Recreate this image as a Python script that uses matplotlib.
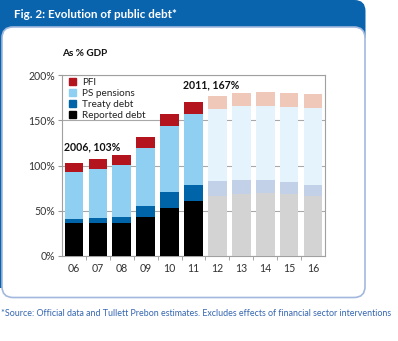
import matplotlib
matplotlib.use("Agg")
import matplotlib.pyplot as plt
from matplotlib.patches import FancyBboxPatch, Rectangle

W, H = 398, 341
DPI = 100

years = ["06", "07", "08", "09", "10", "11", "12", "13", "14", "15", "16"]
reported = [36, 37, 37, 43.5, 53.5, 61, 66.7, 68.9, 69.6, 68.9, 66.7]
treaty = [5, 5, 6.5, 12, 17.2, 17.5, 16.5, 15.4, 14.7, 12.9, 11.8]
pensions = [51.4, 54.5, 57, 63.7, 73.3, 78.5, 79.2, 81.4, 81.4, 83.2, 85]
pfi = [10.6, 10.5, 11.1, 12.2, 13, 13, 14.8, 14.8, 15.9, 15.5, 15.9]
n_actual = 6
yticks = [0, 50, 100, 150, 200]
ytick_labels = ["0%", "50%", "100%", "150%", "200%"]
series_names = ["PFI", "PS pensions", "Treaty debt", "Reported debt"]

col_actual = {"Reported debt": "#000000", "Treaty debt": "#0064a8",
              "PS pensions": "#8fd0f2", "PFI": "#b3141e"}
col_proj = {"Reported debt": "#d3d3d3", "Treaty debt": "#c2d1e8",
            "PS pensions": "#e5f3fc", "PFI": "#f0c8ba"}

FONT = "Lato"

fig = plt.figure(figsize=(W / DPI, H / DPI), dpi=DPI)
fig.patch.set_facecolor("white")

bg = fig.add_axes([0, 0, 1, 1])
bg.set_xlim(0, W)
bg.set_ylim(H, 0)
bg.axis("off")
bg.set_zorder(0)

blue = "#0a64ad"
bg.add_patch(FancyBboxPatch((-12, 0), 377.5, 46, boxstyle="round,pad=0,rounding_size=11",
                            facecolor=blue, edgecolor="none"))
bg.add_patch(Rectangle((0, 0), 340, 20, facecolor=blue, edgecolor="none"))
bg.add_patch(Rectangle((0, 20), 2.5, 268, facecolor=blue, edgecolor="none"))
bg.add_patch(FancyBboxPatch((2.0, 27), 363, 270.5, boxstyle="round,pad=0,rounding_size=11",
                            facecolor="white", edgecolor="#a3b8de", linewidth=1.2))
bg.text(14, 15, "Fig. 2: Evolution of public debt*", color="white",
        fontsize=8.4, fontweight="bold", family=FONT, va="center", ha="left")
bg.text(62, 53, "As % GDP", color="#111111", fontsize=7.2,
        fontweight="bold", family=FONT, va="center", ha="left")
bg.text(1, 313,
        "*Source: Official data and Tullett Prebon estimates. Excludes effects of financial sector interventions",
        color="#3566b0", fontsize=6.4, family=FONT, va="center", ha="left")

ax = fig.add_axes([62 / W, (H - 256) / H, 263 / W, 181 / H])
ax.set_zorder(3)
ax.patch.set_alpha(0)

x = list(range(len(years)))
width = 0.78
stack = [("Reported debt", reported), ("Treaty debt", treaty),
         ("PS pensions", pensions), ("PFI", pfi)]
bottoms = [0.0] * len(years)
for name, vals in stack:
    colors = [col_actual[name] if i < n_actual else col_proj[name] for i in x]
    ax.bar(x, vals, width=width, bottom=bottoms, color=colors, edgecolor="none",
           zorder=3, label=name)
    bottoms = [b + v for b, v in zip(bottoms, vals)]

ax.set_xlim(-0.5, len(years) - 0.5)
ax.set_ylim(0, 200)
ax.set_yticks(yticks)
ax.set_yticklabels(ytick_labels)
ax.set_xticks(x)
ax.set_xticklabels(years)
ax.set_xticks([i + 0.5 for i in x[:-1]], minor=True)
ax.tick_params(axis="x", which="major", length=0, pad=5, labelsize=7.6, labelcolor="#333333")
ax.tick_params(axis="x", which="minor", length=3, color="#999999", direction="out")
ax.tick_params(axis="y", length=3, color="#999999", direction="out", pad=2,
               labelsize=7.6, labelcolor="#333333")
for lab in ax.get_xticklabels() + ax.get_yticklabels():
    lab.set_family(FONT)
ax.grid(axis="y", color="#a8a8a8", linewidth=0.8, zorder=0)
for s in ax.spines.values():
    s.set_color("#a0a0a0")
    s.set_linewidth(0.8)

handles = [Rectangle((0, 0), 1, 1, color=col_actual[nm]) for nm in series_names]
leg = ax.legend(handles, series_names, loc="upper left", frameon=False,
                bbox_to_anchor=(0.0, 1.02), handlelength=0.7, handleheight=0.7,
                handletextpad=0.6, labelspacing=0.2, borderaxespad=0.3,
                prop={"family": FONT, "size": 7.2})
for t in leg.get_texts():
    t.set_color("#222222")

ax.text(-0.42, 121, "2006, 103%", fontsize=7.6, fontweight="bold", family=FONT,
        ha="left", va="center", color="#111111", zorder=5)
ax.text(4.56, 189, "2011, 167%", fontsize=7.6, fontweight="bold", family=FONT,
        ha="left", va="center", color="#111111", zorder=5)

fig.savefig("out.png", dpi=DPI, facecolor="white")
